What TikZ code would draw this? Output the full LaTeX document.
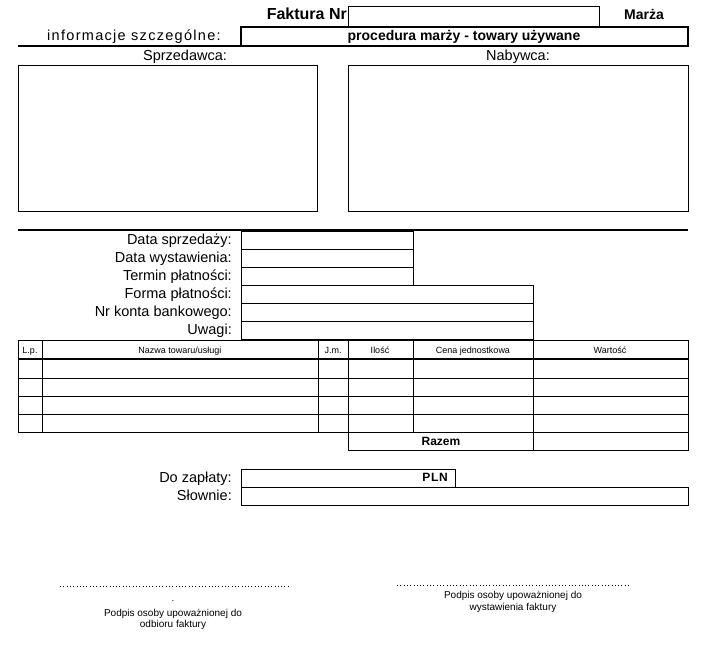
\documentclass[tikz,border=0pt]{standalone}
\usepackage{fontspec}
\setmainfont{Liberation Sans}

\begin{document}
\begin{tikzpicture}[
        x=1pt, y=-1pt,
        every node/.style={inner sep=0pt, text height=0.72em, text depth=0pt},
        thinline/.style={line width=0.8pt},
        thickline/.style={line width=2.4pt},
        fieldlabel/.style={anchor=east, font=\fontsize{14.5}{17}\selectfont},
        title/.style={font=\bfseries\fontsize{14}{17}\selectfont},
        colhead/.style={font=\fontsize{9}{11}\selectfont},
        signtext/.style={align=center, text height=, text depth=, font=\fontsize{10}{11.5}\selectfont},
        dotline/.style={line width=0.7pt, dash pattern=on 0.7pt off 2.6pt}]

    \useasboundingbox (0,0) rectangle (716,646);

    % header
    \node [title, anchor=east, font=\bfseries\fontsize{16}{18}\selectfont] (faktura) at (347,16) {Faktura Nr};
    \draw [thinline] (348,6) rectangle (599,27);
    \node [title] (marza) at (644,16) {Marża};
    \node [fieldlabel, anchor=center, font=\fontsize{14.5}{17}\selectfont\addfontfeature{LetterSpace=9}] (info) at (134,37) {informacje szczególne:};
    \draw [thickline] (241,27) rectangle (688,46);
    \draw [thickline] (18,46) -- (241,46);
    \node [title] (procedura) at (464,36.5) {procedura marży - towary używane};

    % seller and buyer
    \node [fieldlabel, anchor=center] (sprzedawca) at (185,57) {Sprzedawca:};
    \draw [thinline] (18,65) rectangle (317,211);
    \node [fieldlabel, anchor=center] (nabywca) at (518,57) {Nabywca:};
    \draw [thinline] (348,65) rectangle (688,211);
    \draw [thickline] (18,230) -- (688,230);

    % dates and payment
    \foreach \y/\name/\txt in {231/sprzedaz/Data sprzedaży:, 249/wystawienie/Data wystawienia:, 267/termin/Termin płatności:}{
        \node [fieldlabel] (\name) at (232,\y+9.5) {\txt};
        \draw [thinline] (241,\y) rectangle (413,\y+18);
    }
    \foreach \y/\name/\txt in {285/forma/Forma płatności:, 303/konto/Nr konta bankowego:, 321/uwagi/Uwagi:}{
        \node [fieldlabel] (\name) at (232,\y+9.5) {\txt};
        \draw [thinline] (241,\y) rectangle (533,\y+18);
    }
    \draw [thinline] (241,339) -- (241,340) (533,339) -- (533,340);

    % items table
    \draw [thinline] (18,340) rectangle (688,432);
    \draw [thickline, line width=2pt] (18,359) -- (688,359);
    \foreach \y in {378,396,414}
        \draw [thinline] (18,\y) -- (688,\y);
    \foreach \x in {42,318,348,413,533}
        \draw [thinline] (\x,340) -- (\x,432);
    \node [colhead] (lp) at (30,349.5) {L.p.};
    \node [colhead] (nazwa) at (180,349.5) {Nazwa towaru/usługi};
    \node [colhead] (jm) at (333,349.5) {J.m.};
    \node [colhead] (ilosc) at (380,349.5) {Ilość};
    \node [colhead] (cena) at (473,349.5) {Cena jednostkowa};
    \node [colhead] (wartosc) at (610,349.5) {Wartość};
    \draw [thinline] (348,432) rectangle (688,450);
    \draw [thinline] (533,432) -- (533,450);
    \node [title, font=\bfseries\fontsize{12}{14}\selectfont] (razem) at (441,441.5) {Razem};

    % amount due
    \node [fieldlabel] (dozaplaty) at (232,478.5) {Do zapłaty:};
    \draw [thinline] (241,469) rectangle (455,487);
    \node [title, anchor=east, font=\bfseries\fontsize{12}{14}\selectfont\addfontfeature{LetterSpace=6}] (pln) at (448,478) {PLN};
    \node [fieldlabel] (slownie) at (232,496.5) {Słownie:};
    \draw [thinline] (241,487) rectangle (688,505);

    % signatures
    \draw [dotline] (60,586) -- (289,586);
    \node [signtext] (kropka) at (173,601) {.};
    \node [signtext] (odbior) at (173,619.5) {Podpis osoby upoważnionej do\\odbioru faktury};
    \draw [dotline] (397,585) -- (630,585);
    \node [signtext] (wystawienie) at (513,602) {Podpis osoby upoważnionej do\\wystawienia faktury};
\end{tikzpicture}
\end{document}
